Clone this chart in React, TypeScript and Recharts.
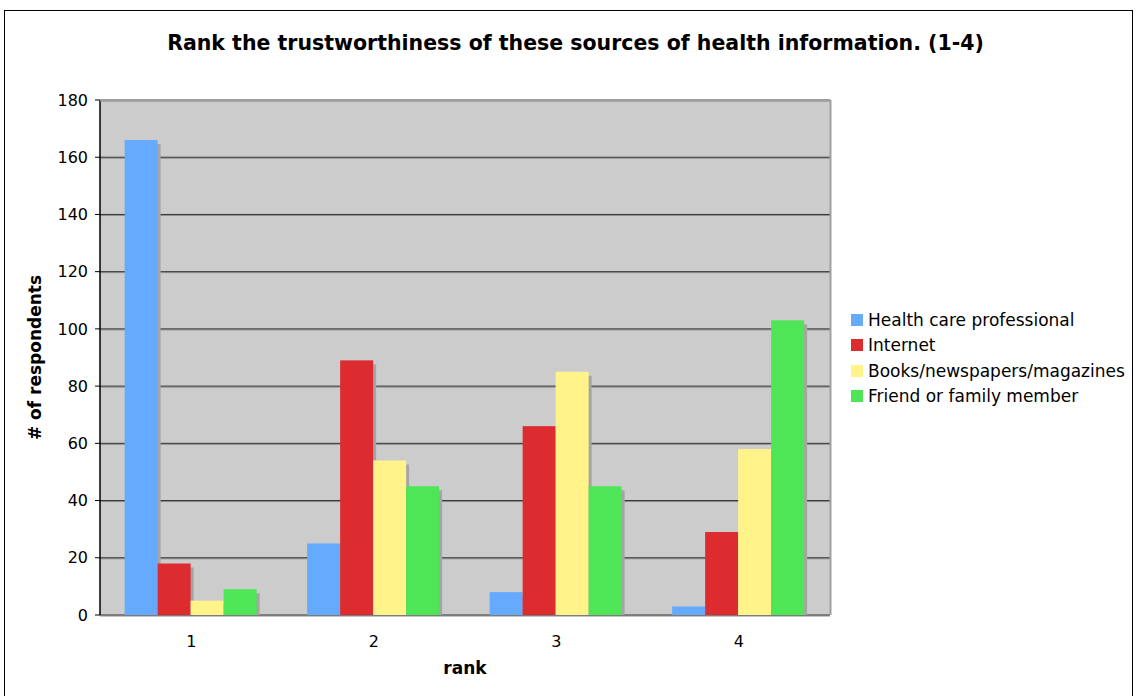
import React from "react";
import { Bar, BarChart, CartesianGrid, Label, XAxis, YAxis } from "recharts";

const ranks = ["1", "2", "3", "4"];
const healthCare = [166, 25, 8, 3];
const internet = [18, 89, 66, 29];
const books = [5, 54, 85, 58];
const friends = [9, 45, 45, 103];
const yTicks = [0, 20, 40, 60, 80, 100, 120, 140, 160, 180];

const series = [
  { key: "health", name: "Health care professional", color: "#66aaff", values: healthCare },
  { key: "internet", name: "Internet", color: "#dd2c30", values: internet },
  { key: "books", name: "Books/newspapers/magazines", color: "#fff38a", values: books },
  { key: "friends", name: "Friend or family member", color: "#4ee556", values: friends },
];

const data = ranks.map((rank, i) => {
  const row: Record<string, string | number> = { rank, pos: i + 0.5 };
  series.forEach((s) => {
    row[s.key] = s.values[i];
  });
  return row;
});

const FONT = "'DejaVu Sans', Verdana, sans-serif";

function ShadowBar(props: any) {
  const { x, y, width, height, fill } = props;
  if (!height || height <= 0) return null;
  const sh = Math.max(height - 4, 0);
  return (
    <g>
      <rect x={x + 3} y={y + 4} width={width} height={sh} fill="#a5a5a5" />
      <rect x={x} y={y} width={width} height={height} fill={fill} />
    </g>
  );
}

function GridLine(props: any) {
  const { x1, x2, y1 } = props;
  return (
    <g key={`g-${y1}`}>
      <line x1={x1} x2={x2} y1={y1 + 1} y2={y1 + 1} stroke="#8c8c8c" strokeWidth={1} />
      <line x1={x1} x2={x2} y1={y1} y2={y1} stroke="#333" strokeWidth={1} />
    </g>
  );
}

export default function App() {
  return (
    <div style={{ position: "relative", width: 1139, height: 696, overflow: "hidden", background: "#fff", fontFamily: FONT }}>
      <style>{`body{margin:0}`}</style>
      <div
        style={{
          position: "absolute",
          left: 4,
          top: 10,
          width: 1129,
          height: 720,
          border: "1px solid #000",
          boxSizing: "border-box",
        }}
      />
      <div
        style={{
          position: "absolute",
          left: 0,
          top: 31,
          width: 1151,
          textAlign: "center",
          fontWeight: "bold",
          fontSize: 20.5,
          color: "#000",
        }}
      >
        Rank the trustworthiness of these sources of health information. (1-4)
      </div>
      <div style={{ position: "absolute", left: 0, top: 0 }}>
        <BarChart
          width={1139}
          height={696}
          data={data}
          margin={{ top: 100, right: 309, bottom: 0, left: 40 }}
          barCategoryGap="13.5%"
          barGap={0}
        >
          <CartesianGrid vertical={false} horizontal={GridLine} fill="#cccccc" />
          <XAxis
            xAxisId="pos"
            type="number"
            dataKey="pos"
            domain={[0, 4]}
            ticks={[0, 1, 2, 3, 4]}
            tick={false}
            height={0}
            tickSize={5}
            axisLine={{ stroke: "#000", strokeWidth: 1.5 }}
            tickLine={{ stroke: "#000" }}
          />
          <XAxis
            dataKey="rank"
            height={81}
            axisLine={false}
            tickLine={false}
            tickMargin={15}
            tick={{ fill: "#000", fontSize: 16, fontFamily: FONT }}
          >
            <Label
              value="rank"
              position="insideTop"
              offset={47}
              style={{ fontWeight: "bold", fontSize: 17, fill: "#000", fontFamily: FONT }}
            />
          </XAxis>
          <YAxis
            width={60}
            domain={[0, 180]}
            ticks={yTicks}
            interval={0}
            tickSize={5}
            tickMargin={7}
            axisLine={{ stroke: "#000", strokeWidth: 1.5 }}
            tickLine={{ stroke: "#000" }}
            tick={{ fill: "#000", fontSize: 16, fontFamily: FONT }}
          >
            <Label
              value="# of respondents"
              angle={-90}
              position="insideLeft"
              offset={-5}
              style={{ fontWeight: "bold", fontSize: 17, fill: "#000", fontFamily: FONT, textAnchor: "middle" }}
            />
          </YAxis>
          {series.map((s) => (
            <Bar
              key={s.key}
              dataKey={s.key}
              name={s.name}
              fill={s.color}
              shape={ShadowBar}
              isAnimationActive={false}
            />
          ))}
        </BarChart>
      </div>
      <svg width={1139} height={696} style={{ position: "absolute", left: 0, top: 0, pointerEvents: "none" }}>
        <line x1={100} x2={831} y1={100.5} y2={100.5} stroke="#a0a0a0" strokeWidth={2} />
        <line x1={830.5} x2={830.5} y1={100} y2={615} stroke="#a0a0a0" strokeWidth={2} />
      </svg>
      <div style={{ position: "absolute", left: 851, top: 307 }}>
        {series.map((s) => (
          <div key={s.key} style={{ display: "flex", alignItems: "center", height: 25.5, fontSize: 17, color: "#000" }}>
            <span style={{ display: "inline-block", width: 12, height: 12, background: s.color, marginRight: 5 }} />
            <span>{s.name}</span>
          </div>
        ))}
      </div>
    </div>
  );
}
